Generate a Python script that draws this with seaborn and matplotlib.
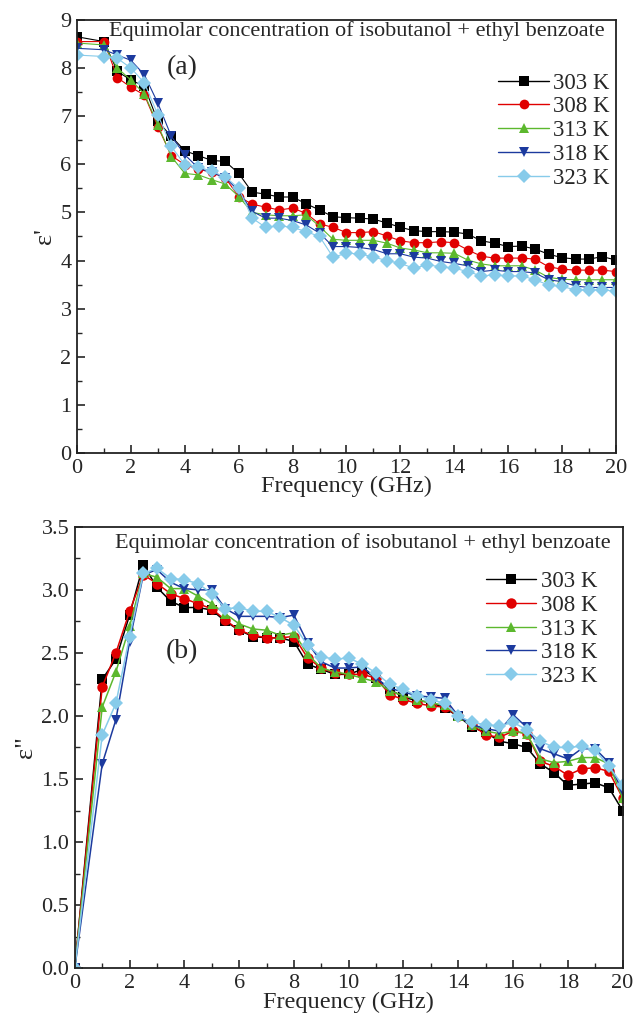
import numpy as np
import pandas as pd
import seaborn as sns
import matplotlib.pyplot as plt
from matplotlib.ticker import MultipleLocator

# frequency points (GHz)
freq = [0, 1] + [1.5 + 0.5 * i for i in range(38)]
temps = ["303 K", "308 K", "313 K", "318 K", "323 K"]

# real part, epsilon'
eps1_303 = [8.65, 8.55, 7.93, 7.75, 7.62, 6.89, 6.58, 6.28, 6.18, 6.08, 6.06, 5.81, 5.42, 5.38, 5.32, 5.32,
            5.18, 5.05, 4.91, 4.89, 4.88, 4.86, 4.78, 4.69, 4.62, 4.60, 4.60, 4.59, 4.55, 4.41, 4.36, 4.29,
            4.30, 4.24, 4.13, 4.06, 4.03, 4.03, 4.08, 4.01]
eps1_308 = [8.55, 8.55, 7.80, 7.60, 7.44, 6.78, 6.18, 5.99, 5.90, 5.83, 5.72, 5.33, 5.17, 5.11, 5.05, 5.09,
            4.98, 4.76, 4.69, 4.58, 4.58, 4.60, 4.51, 4.41, 4.37, 4.37, 4.39, 4.37, 4.22, 4.09, 4.05, 4.05,
            4.05, 4.03, 3.87, 3.82, 3.80, 3.80, 3.80, 3.77]
eps1_313 = [8.52, 8.48, 8.00, 7.75, 7.46, 6.82, 6.16, 5.81, 5.78, 5.68, 5.59, 5.33, 5.00, 4.95, 4.93, 4.93,
            4.95, 4.71, 4.44, 4.42, 4.42, 4.42, 4.36, 4.26, 4.22, 4.16, 4.16, 4.15, 4.01, 3.93, 3.89, 3.89,
            3.89, 3.80, 3.65, 3.61, 3.60, 3.60, 3.60, 3.60]
eps1_318 = [8.41, 8.38, 8.27, 8.16, 7.86, 7.27, 6.58, 6.20, 5.92, 5.83, 5.72, 5.45, 5.02, 4.88, 4.88, 4.83,
            4.74, 4.57, 4.29, 4.29, 4.27, 4.23, 4.14, 4.14, 4.07, 4.05, 3.98, 3.94, 3.89, 3.77, 3.80, 3.77,
            3.77, 3.74, 3.60, 3.56, 3.47, 3.44, 3.44, 3.44]
eps1_323 = [8.27, 8.24, 8.20, 8.00, 7.69, 7.03, 6.37, 5.99, 5.95, 5.85, 5.74, 5.50, 4.88, 4.69, 4.72, 4.69,
            4.60, 4.50, 4.07, 4.15, 4.14, 4.07, 4.00, 3.94, 3.84, 3.91, 3.87, 3.84, 3.77, 3.68, 3.70, 3.68,
            3.68, 3.60, 3.49, 3.46, 3.39, 3.39, 3.39, 3.36]

# imaginary part, epsilon''
eps2_303 = [0.0, 2.29, 2.45, 2.80, 3.20, 3.02, 2.91, 2.86, 2.86, 2.84, 2.75, 2.68, 2.63, 2.62, 2.62, 2.59,
            2.41, 2.37, 2.33, 2.33, 2.37, 2.30, 2.21, 2.15, 2.12, 2.11, 2.06, 2.00, 1.91, 1.87, 1.80, 1.78,
            1.75, 1.62, 1.55, 1.45, 1.46, 1.47, 1.43, 1.25]
eps2_308 = [0.0, 2.23, 2.50, 2.83, 3.12, 3.05, 2.97, 2.93, 2.89, 2.85, 2.76, 2.68, 2.64, 2.62, 2.62, 2.63,
            2.46, 2.38, 2.34, 2.33, 2.33, 2.30, 2.17, 2.13, 2.10, 2.08, 2.07, 2.00, 1.93, 1.85, 1.83, 1.88,
            1.86, 1.64, 1.60, 1.53, 1.58, 1.59, 1.56, 1.35]
eps2_313 = [0.0, 2.07, 2.35, 2.71, 3.13, 3.10, 3.01, 3.01, 2.95, 2.89, 2.81, 2.73, 2.69, 2.68, 2.64, 2.66,
            2.49, 2.38, 2.35, 2.33, 2.30, 2.27, 2.20, 2.16, 2.13, 2.10, 2.09, 2.00, 1.93, 1.88, 1.86, 1.88,
            1.86, 1.66, 1.63, 1.64, 1.67, 1.67, 1.62, 1.35]
eps2_318 = [0.0, 1.62, 1.97, 2.59, 3.12, 3.16, 3.06, 3.01, 3.00, 3.00, 2.85, 2.79, 2.79, 2.79, 2.78, 2.80,
            2.58, 2.43, 2.38, 2.38, 2.39, 2.30, 2.22, 2.19, 2.16, 2.15, 2.14, 2.00, 1.93, 1.90, 1.88, 2.01,
            1.91, 1.74, 1.70, 1.66, 1.74, 1.74, 1.63, 1.40]
eps2_323 = [0.0, 1.85, 2.10, 2.63, 3.13, 3.17, 3.09, 3.08, 3.05, 2.97, 2.85, 2.86, 2.83, 2.83, 2.78, 2.72,
            2.56, 2.47, 2.45, 2.46, 2.41, 2.34, 2.25, 2.21, 2.16, 2.13, 2.10, 2.00, 1.95, 1.93, 1.92, 1.95,
            1.89, 1.80, 1.75, 1.75, 1.76, 1.73, 1.60, 1.45]

colors = ["#000000", "#e00000", "#5cb82e", "#1c3a9e", "#87cbea"]
markers = ["s", "o", "^", "v", "D"]
title = "Equimolar concentration of isobutanol + ethyl benzoate"


def long_table(series):
    rows = []
    for t, vals in zip(temps, series):
        for f, v in zip(freq, vals):
            rows.append({"freq": f, "eps": v, "T": t})
    return pd.DataFrame(rows)


df1 = long_table([eps1_303, eps1_308, eps1_313, eps1_318, eps1_323])
df2 = long_table([eps2_303, eps2_308, eps2_313, eps2_318, eps2_323])

sns.set_style("ticks")
plt.rcParams["font.family"] = ["Liberation Serif", "DejaVu Serif"]

fig = plt.figure(figsize=(6.34, 10.17), dpi=100)
ax1 = fig.add_axes([0.1215, 0.5546, 0.850, 0.4258])
ax2 = fig.add_axes([0.118, 0.048, 0.864, 0.434])

pal = dict(zip(temps, colors))
mk = dict(zip(temps, markers))

for ax, df, lw, ms in [(ax1, df1, 0.8, 7), (ax2, df2, 1.1, 7.5)]:
    sns.lineplot(data=df, x="freq", y="eps", hue="T", style="T", palette=pal,
                 markers=mk, dashes=False, markersize=ms, linewidth=lw,
                 markeredgewidth=0, ax=ax)
    ax.set_xlim(0, 20)
    ax.xaxis.set_major_locator(MultipleLocator(2))
    ax.xaxis.set_minor_locator(MultipleLocator(1))
    ax.tick_params(which="both", direction="in", labelsize=16, top=False, right=False)
    ax.tick_params(axis="x", pad=4)
    ax.tick_params(axis="y", pad=4)
    ax.tick_params(which="major", length=6, width=1.2)
    ax.tick_params(which="minor", length=3.5, width=1.0)
    for s in ax.spines.values():
        s.set_linewidth(1.3)
        s.set_color("#222222")
    ax.set_xlabel("Frequency (GHz)", fontsize=17.5, labelpad=-1)
    leg = ax.legend(frameon=False, fontsize=16.5, handlelength=2.2, handletextpad=0.2,
                    labelspacing=0.12, borderaxespad=0.1)
    for h in leg.legend_handles:
        h.set_linewidth(1.0)

ax1.set_ylim(0, 9)
ax1.yaxis.set_major_locator(MultipleLocator(1))
ax1.yaxis.set_minor_locator(MultipleLocator(0.5))
ax1.set_ylabel("ε'", fontsize=19, labelpad=3)
ax1.text(0.52, 0.998, title, transform=ax1.transAxes, ha="center", va="top", fontsize=16)
ax1.text(0.195, 0.891, "(a)", transform=ax1.transAxes, ha="center", va="center", fontsize=20)
ax1.legend_.set_bbox_to_anchor((1.01, 0.905))
ax1.legend_._loc = 1

ax2.set_ylim(0, 3.5)
ax2.yaxis.set_major_locator(MultipleLocator(0.5))
ax2.yaxis.set_minor_locator(MultipleLocator(0.25))
ax2.yaxis.set_major_formatter(plt.FormatStrFormatter("%.1f"))
ax2.set_ylabel('ε"', fontsize=19, labelpad=3)
ax2.text(0.525, 0.985, title, transform=ax2.transAxes, ha="center", va="top", fontsize=16)
ax2.text(0.195, 0.717, "(b)", transform=ax2.transAxes, ha="center", va="center", fontsize=20)
ax2.legend_.set_bbox_to_anchor((0.975, 0.926))
ax2.legend_._loc = 1

fig.savefig("out.png", dpi=100)
